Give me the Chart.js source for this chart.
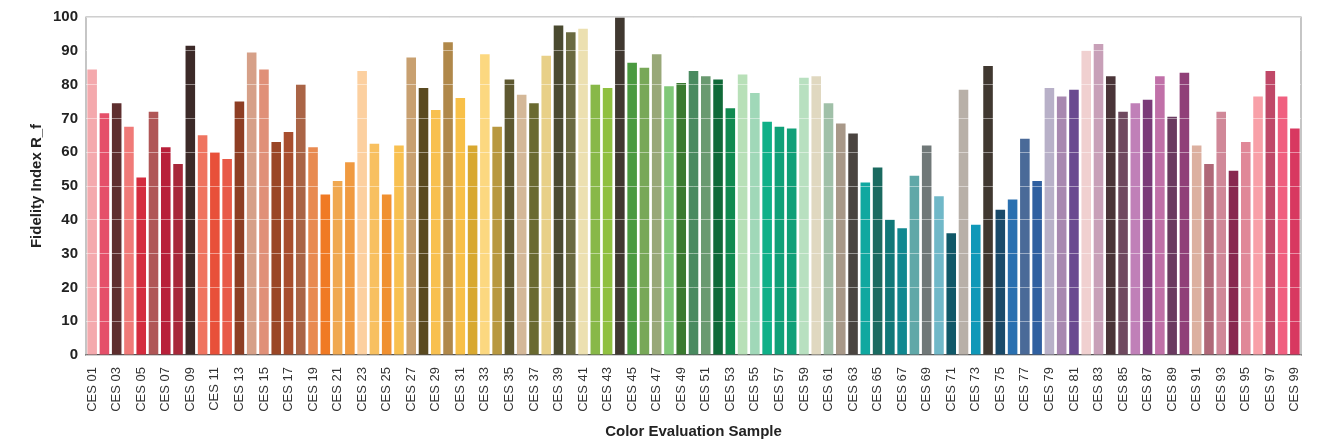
<!DOCTYPE html>
<html>
<head>
<meta charset="utf-8">
<script src="https://cdn.jsdelivr.net/npm/chart.js@4.4.1/dist/chart.umd.min.js"></script>
<style>
html,body{margin:0;padding:0;background:#fff;}
#wrap{width:1319px;height:441px;position:relative;}
</style>
</head>
<body>
<div id="wrap"><canvas id="c"></canvas></div>
<script>
const categories = [];
for (let i = 1; i <= 99; i++) categories.push('CES ' + String(i).padStart(2, '0'));

const fidelityValues = [
  84.5, 71.5, 74.5, 67.5, 52.5, 72, 61.5, 56.5, 91.5, 65,
  60, 58, 75, 89.5, 84.5, 63, 66, 80, 61.5, 47.5,
  51.5, 57, 84, 62.5, 47.5, 62, 88, 79, 72.5, 92.5,
  76, 62, 89, 67.5, 81.5, 77, 74.5, 88.5, 97.5, 95.5,
  96.5, 80, 79, 100, 86.5, 85, 89, 79.5, 80.5, 84,
  82.5, 81.5, 73, 83, 77.5, 69, 67.5, 67, 82, 82.5,
  74.5, 68.5, 65.5, 51, 55.5, 40, 37.5, 53, 62, 47,
  36, 78.5, 38.5, 85.5, 43, 46, 64, 51.5, 79, 76.5,
  78.5, 90, 92, 82.5, 72, 74.5, 75.5, 82.5, 70.5, 83.5,
  62, 56.5, 72, 54.5, 63, 76.5, 84, 76.5, 67
];

const barColors = [
  '#f4a9ad', '#e5506a', '#5e2e2e', '#f07a78', '#d42c3e', '#b05656', '#b8203a', '#a8283a', '#3c2a28', '#ef7460',
  '#e8503a', '#e85a48', '#8e3e24', '#d6a088', '#e09078', '#9a4626', '#a84e2e', '#aa6446', '#e88a50', '#f07a24',
  '#f0a850', '#f09a40', '#fcd0a0', '#f8c060', '#f09030', '#f8c050', '#c8a070', '#5a4a20', '#f8c050', '#b0884a',
  '#f8c048', '#d8a830', '#fcd880', '#b89840', '#5e5830', '#d4b898', '#6a6a30', '#e8d088', '#4a4a30', '#6a6a40',
  '#ece0b0', '#88b848', '#90c040', '#403830', '#4a9a40', '#78a858', '#98a878', '#80c878', '#3a7a30', '#4a8a60',
  '#6a9a70', '#106a38', '#108a50', '#b8e0b8', '#a0d8b8', '#10b088', '#10a078', '#10a078', '#b8e0c0', '#e0d8c0',
  '#a0c0a8', '#a89888', '#4a4440', '#10a8a0', '#1a6a60', '#107878', '#108890', '#60a8a8', '#707878', '#70b8c8',
  '#105868', '#b8b0a8', '#1098b8', '#403830', '#1a4a6a', '#2a70b0', '#4a6a98', '#3060a0', '#b8b0c8', '#a888b0',
  '#6a4a90', '#f0d0d0', '#c8a0b8', '#4a3438', '#704a60', '#c080b8', '#7a3a78', '#c070a8', '#6a3a60', '#904078',
  '#dcb0a0', '#b06878', '#d08898', '#882850', '#e08898', '#f8a0a8', '#c04868', '#f06080', '#d83860'
];

const yTicks = [0, 10, 20, 30, 40, 50, 60, 70, 80, 90, 100];

const framePlugin = {
  id: 'frame',
  afterDatasetsDraw(chart) {
    const a = chart.chartArea, ctx = chart.ctx;
    ctx.save();
    ctx.strokeStyle = '#a0a0a0';
    ctx.lineWidth = 1.2;
    ctx.beginPath();
    ctx.moveTo(a.left, a.bottom);
    ctx.lineTo(a.left, a.top);
    ctx.lineTo(a.right, a.top);
    ctx.lineTo(a.right, a.bottom);
    ctx.stroke();
    ctx.restore();
  }
};

new Chart(document.getElementById('c'), {
  type: 'bar',
  data: {
    labels: categories,
    datasets: [{
      data: fidelityValues,
      backgroundColor: barColors,
      borderWidth: 0,
      barPercentage: 0.78,
      categoryPercentage: 1.0
    }]
  },
  plugins: [framePlugin],
  options: {
    responsive: true,
    maintainAspectRatio: false,
    animation: false,
    layout: { padding: { left: 0, right: 18, top: 15, bottom: 0 } },
    plugins: { legend: { display: false }, tooltip: { enabled: false } },
    scales: {
      x: {
        grid: { display: false },
        border: { display: true, color: '#555', width: 1.5 },
        ticks: {
          autoSkip: false,
          maxRotation: 90,
          minRotation: 90,
          padding: 4,
          color: '#333',
          font: { family: 'Liberation Sans, Arial, sans-serif', size: 13 },
          callback: function (v, i) { return i % 2 === 0 ? this.getLabelForValue(v) : ''; }
        },
        title: {
          display: true,
          text: 'Color Evaluation Sample',
          color: '#222',
          font: { family: 'Liberation Sans, Arial, sans-serif', size: 15, weight: 'bold' },
          padding: { top: 2, bottom: 0 }
        },
        afterFit(scale) { scale.height = 86; }
      },
      y: {
        min: 0,
        max: 100,
        afterBuildTicks(scale) { scale.ticks = yTicks.map(v => ({ value: v })); },
        grid: { color: 'rgba(255,255,255,0.45)', z: 1, drawTicks: false },
        border: { display: false },
        ticks: {
          padding: 8,
          color: '#222',
          font: { family: 'Liberation Sans, Arial, sans-serif', size: 15, weight: 'bold' }
        },
        title: {
          display: true,
          text: 'Fidelity Index R_f',
          color: '#222',
          font: { family: 'Liberation Sans, Arial, sans-serif', size: 15, weight: 'bold' },
          padding: { top: 28, bottom: 4 }
        },
        afterFit(scale) { scale.width = 86; }
      }
    }
  }
});
</script>
</body>
</html>
